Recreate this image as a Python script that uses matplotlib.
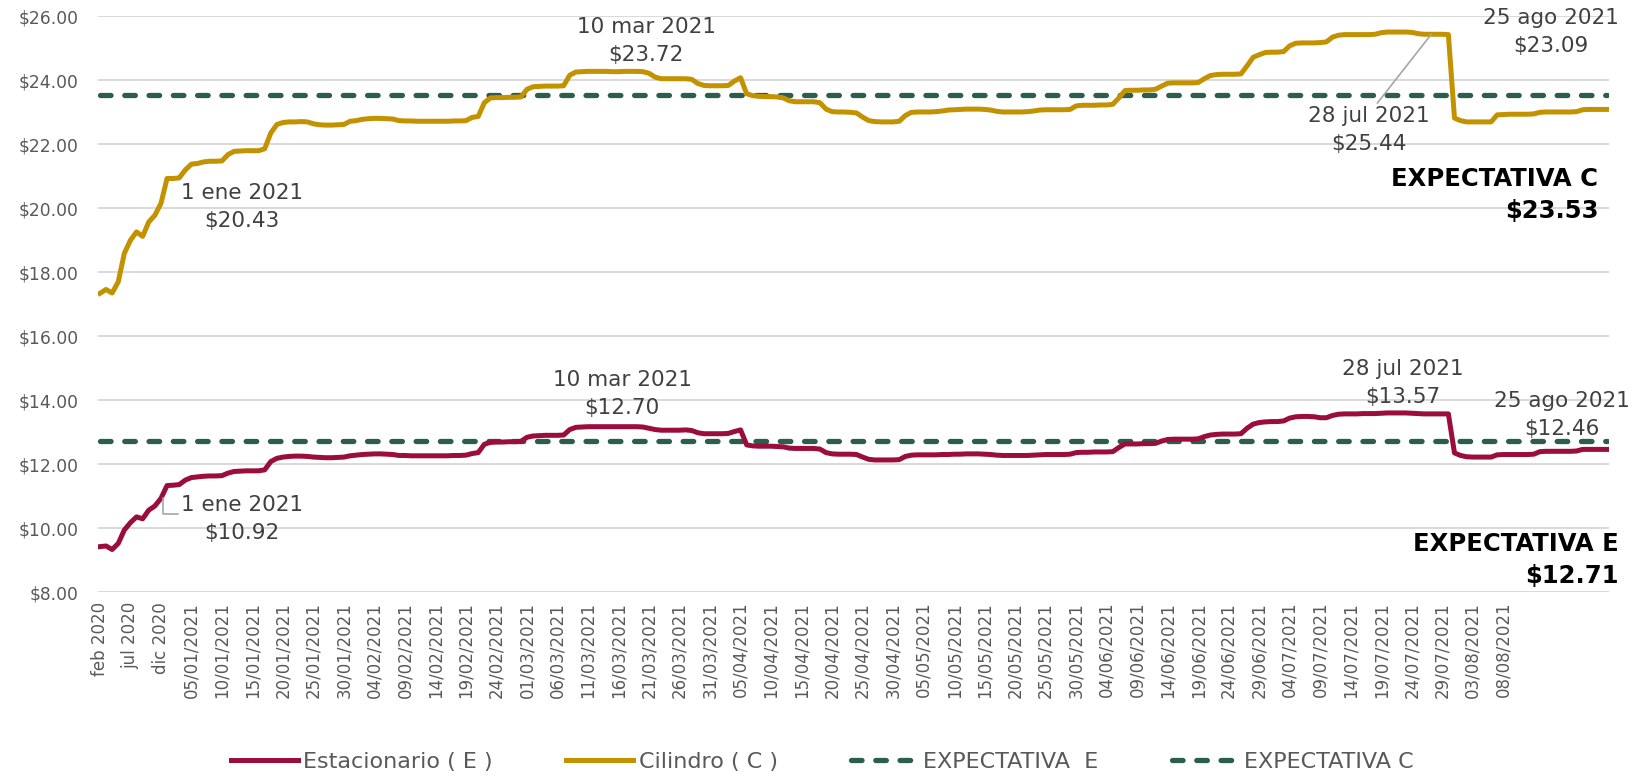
import matplotlib
matplotlib.use("Agg")
import matplotlib.pyplot as plt
import numpy as np
import pandas as pd

# categories: monthly Feb-Dec 2020, then daily 1 Jan - 25 Aug 2021
months_2020 = ["feb 2020", "mar 2020", "abr 2020", "may 2020", "jun 2020", "jul 2020",
               "ago 2020", "sep 2020", "oct 2020", "nov 2020", "dic 2020"]
days_2021 = pd.date_range("2021-01-01", "2021-08-25").strftime("%d/%m/%Y").tolist()
categories = months_2020 + days_2021
last_label = "08/08/2021"

# Estacionario (E), $/litro
estacionario = [
    9.42, 9.44, 9.33, 9.52, 9.94, 10.17, 10.35, 10.29, 10.56, 10.69, 10.93,
    11.33, 11.34, 11.36, 11.50, 11.58, 11.60, 11.62, 11.63, 11.63, 11.64,
    11.72, 11.77, 11.78, 11.79, 11.79, 11.79, 11.82, 12.08, 12.18,
    12.22, 12.24, 12.25, 12.25, 12.24, 12.22, 12.21, 12.20, 12.20, 12.21, 12.22,
    12.26, 12.28, 12.30, 12.31, 12.32, 12.32, 12.31, 12.30,
    12.27, 12.27, 12.26, 12.26, 12.26, 12.26, 12.26, 12.26, 12.26, 12.27, 12.27, 12.28,
    12.33, 12.36, 12.62, 12.68, 12.69, 12.69, 12.70, 12.70, 12.71,
    12.84, 12.88, 12.89, 12.90, 12.90, 12.90, 12.91,
    13.08, 13.15, 13.16, 13.17, 13.17, 13.17, 13.17, 13.17, 13.17, 13.17, 13.17, 13.17, 13.16, 13.12,
    13.08, 13.06, 13.06, 13.06, 13.06, 13.07, 13.05,
    12.98, 12.95, 12.95, 12.95, 12.95, 12.96, 13.02, 13.07,
    12.60, 12.57, 12.56, 12.56, 12.56, 12.55, 12.54,
    12.50, 12.49, 12.49, 12.49, 12.49, 12.47,
    12.36, 12.32, 12.31, 12.31, 12.31, 12.30,
    12.22, 12.15, 12.13, 12.13, 12.13, 12.13, 12.14,
    12.24, 12.28, 12.29, 12.29, 12.29, 12.29, 12.30, 12.30,
    12.31, 12.31, 12.32, 12.32, 12.32, 12.31, 12.30,
    12.28, 12.27, 12.27, 12.27, 12.27, 12.27, 12.28,
    12.29, 12.30, 12.30, 12.30, 12.30, 12.31,
    12.36, 12.37, 12.37, 12.38, 12.38, 12.38, 12.39,
    12.52, 12.63, 12.63, 12.63, 12.64, 12.64, 12.65,
    12.72, 12.77, 12.78, 12.78, 12.78, 12.78, 12.79,
    12.86, 12.91, 12.93, 12.94, 12.94, 12.94, 12.95,
    13.12, 13.25, 13.30, 13.32, 13.33, 13.33, 13.35,
    13.44, 13.48, 13.49, 13.49, 13.48, 13.45, 13.45,
    13.52, 13.56, 13.57, 13.57, 13.57, 13.58, 13.58, 13.58,
    13.59, 13.60, 13.60, 13.60, 13.60, 13.59,
    13.58, 13.57, 13.57, 13.57, 13.57, 13.57,
    12.35, 12.27, 12.23, 12.22, 12.22, 12.22, 12.22,
    12.29, 12.30, 12.30, 12.30, 12.30, 12.30, 12.31,
    12.39, 12.40, 12.40, 12.40, 12.40, 12.40, 12.41,
    12.46, 12.46, 12.46, 12.46, 12.46,
]

# Cilindro (C), $/kg
cilindro = [
    17.34, 17.46, 17.35, 17.70, 18.59, 19.00, 19.26, 19.12, 19.57, 19.78, 20.15,
    20.93, 20.93, 20.95, 21.20, 21.38, 21.40, 21.45, 21.47, 21.47, 21.48,
    21.68, 21.78, 21.79, 21.80, 21.80, 21.80, 21.86, 22.35, 22.62,
    22.68, 22.70, 22.70, 22.71, 22.70, 22.64, 22.61, 22.60, 22.60, 22.61, 22.62,
    22.72, 22.74, 22.78, 22.80, 22.81, 22.81, 22.80, 22.79,
    22.74, 22.73, 22.73, 22.72, 22.72, 22.72, 22.72, 22.72, 22.72, 22.73, 22.73, 22.74,
    22.84, 22.87, 23.30, 23.45, 23.46, 23.46, 23.47, 23.47, 23.48,
    23.72, 23.80, 23.81, 23.82, 23.82, 23.82, 23.83,
    24.16, 24.26, 24.27, 24.28, 24.28, 24.28, 24.28, 24.27, 24.27, 24.28, 24.28, 24.28, 24.27, 24.22,
    24.10, 24.05, 24.05, 24.05, 24.05, 24.05, 24.03,
    23.90, 23.84, 23.83, 23.83, 23.83, 23.84, 23.98, 24.08,
    23.58, 23.52, 23.50, 23.49, 23.49, 23.48, 23.45,
    23.36, 23.33, 23.33, 23.33, 23.33, 23.30,
    23.10, 23.02, 23.01, 23.01, 23.00, 22.98,
    22.85, 22.74, 22.71, 22.70, 22.70, 22.70, 22.72,
    22.90, 23.00, 23.01, 23.01, 23.01, 23.02, 23.04, 23.07,
    23.08, 23.09, 23.10, 23.10, 23.10, 23.09, 23.07,
    23.03, 23.01, 23.01, 23.01, 23.01, 23.02, 23.04,
    23.07, 23.08, 23.08, 23.08, 23.08, 23.09,
    23.20, 23.22, 23.22, 23.22, 23.23, 23.23, 23.25,
    23.45, 23.68, 23.69, 23.69, 23.70, 23.70, 23.72,
    23.82, 23.91, 23.92, 23.92, 23.92, 23.92, 23.93,
    24.05, 24.15, 24.18, 24.19, 24.19, 24.19, 24.20,
    24.45, 24.72, 24.80, 24.87, 24.88, 24.88, 24.90,
    25.08, 25.16, 25.17, 25.17, 25.17, 25.18, 25.20,
    25.35, 25.41, 25.43, 25.43, 25.43, 25.43, 25.43, 25.44,
    25.49, 25.51, 25.51, 25.51, 25.51, 25.50,
    25.46, 25.44, 25.44, 25.44, 25.44, 25.43,
    22.82, 22.74, 22.70, 22.70, 22.70, 22.70, 22.70,
    22.92, 22.93, 22.94, 22.94, 22.94, 22.94, 22.95,
    23.00, 23.01, 23.01, 23.01, 23.01, 23.01, 23.02,
    23.08, 23.09, 23.09, 23.09, 23.09,
]

expectativa_e = 12.71
expectativa_c = 23.53

RED = "#9B0D3A"
GOLD = "#C39200"
GREEN = "#2B5E4C"
GREY_TXT = "#595959"
ANN_TXT = "#404040"

plt.rcParams["font.family"] = ["DejaVu Sans"]

fig = plt.figure(figsize=(16.35, 7.79), dpi=100)
ax = fig.add_axes([0.06, 0.24, 0.924, 0.739])

x = np.arange(len(categories))
ax.plot(x[:len(estacionario)], estacionario, color=RED, lw=3.6,
        solid_joinstyle="round", label="Estacionario ( E )", zorder=3)
ax.plot(x[:len(cilindro)], cilindro, color=GOLD, lw=3.6,
        solid_joinstyle="round", label="Cilindro ( C )", zorder=3)
ax.plot(x, [expectativa_e] * len(x), color=GREEN, lw=3.8, dashes=(2.0, 2.6),
        dash_capstyle="round", label="EXPECTATIVA  E", zorder=2)
ax.plot(x, [expectativa_c] * len(x), color=GREEN, lw=3.8, dashes=(2.0, 2.6),
        dash_capstyle="round", label="EXPECTATIVA C", zorder=2)

ax.set_ylim(8, 26)
ax.set_xlim(-0.3, len(categories) - 1 + 0.3)
ax.set_yticks(np.arange(8, 27, 2))
ax.yaxis.set_major_formatter(matplotlib.ticker.FuncFormatter(lambda v, p: f"${v:.2f}"))
n_lab = categories.index(last_label) + 1
ax.set_xticks(x[:n_lab:5])
ax.set_xticklabels(categories[:n_lab:5], rotation=90, fontsize=12, color=GREY_TXT)
ax.tick_params(axis="y", labelsize=12.3, labelcolor=GREY_TXT, length=0, pad=14)
ax.tick_params(axis="x", length=0, pad=7)
ax.grid(axis="y", color="#D9D9D9", lw=1.4, zorder=0)
ax.set_axisbelow(True)
for s in ax.spines.values():
    s.set_visible(False)

ann = dict(fontsize=15.5, color=ANN_TXT, ha="center", va="center", linespacing=1.5)
ax.text(23.3, 20.05, "1 ene 2021\n$20.43", **ann)
ax.text(89.5, 25.22, "10 mar 2021\n$23.72", **ann)
ax.text(237.8, 25.5, "25 ago 2021\n$23.09", **ann)
ax.annotate("28 jul 2021\n$25.44", xy=(218.2, 25.44), xytext=(208.0, 22.45),
            textcoords="data", **ann,
            arrowprops=dict(arrowstyle="-", color="#A6A6A6", lw=1.2,
                            shrinkA=0, shrinkB=0, relpos=(0.55, 1.0)))
ax.text(85.6, 14.2, "10 mar 2021\n$12.70", **ann)
ax.annotate("1 ene 2021\n$10.92", xy=(10.3, 10.93), xytext=(23.3, 10.27),
            textcoords="data", **ann,
            arrowprops=dict(arrowstyle="-", color="#A6A6A6", lw=1.2,
                            connectionstyle="angle,angleA=0,angleB=90,rad=0",
                            shrinkA=0, shrinkB=0, relpos=(0.0, 0.62)))
ax.text(213.5, 14.53, "28 jul 2021\n$13.57", **ann)
ax.text(239.6, 13.55, "25 ago 2021\n$12.46", **ann)

bold = dict(fontsize=17.5, color="black", fontweight="bold", ha="right", va="center",
            linespacing=1.4)
ax.text(245.6, 20.42, "EXPECTATIVA C\n$23.53", **bold)
ax.text(248.9, 9.0, "EXPECTATIVA E\n$12.71", **bold)

fig.legend(loc="center", bbox_to_anchor=(0.503, 0.022), ncol=4, frameon=False,
           fontsize=16, handlelength=3.0, columnspacing=3.3, handletextpad=0.25,
           labelcolor=GREY_TXT)

fig.savefig("out.png", dpi=100)
